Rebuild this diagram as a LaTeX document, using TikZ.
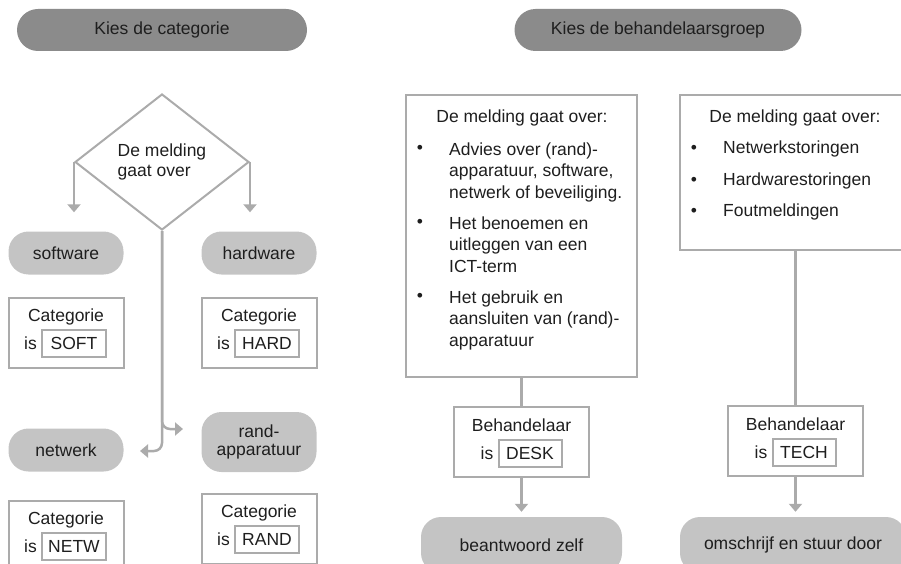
\documentclass[tikz,border=0pt]{standalone}
\usepackage{fontspec}
\setmainfont{Liberation Sans}
\usetikzlibrary{shapes.geometric,arrows.meta,positioning}
\definecolor{darkpill}{HTML}{8B8B8B}
\definecolor{lightpill}{HTML}{C4C4C4}
\definecolor{edgegray}{HTML}{ABABAB}
\definecolor{textgray}{HTML}{1E1E1E}
\tikzset{
  title/.style={fill=darkpill, rounded corners=21pt, minimum width=290pt, minimum height=42pt, inner sep=0pt},
  pill/.style={fill=lightpill, rounded corners=20pt, minimum width=115pt, minimum height=43pt, align=center, inner sep=0pt},
  catbox/.style={draw=edgegray, line width=2pt, minimum width=115pt, minimum height=70pt, inner sep=0pt},
  codebox/.style={draw=edgegray, line width=2pt, minimum width=64pt, minimum height=27pt, inner sep=0pt},
  txt/.style={inner sep=0pt},
  conn/.style={draw=edgegray, line width=2.5pt},
  arr/.style={conn, -{Triangle[width=13pt,length=8pt]}},
}
\begin{document}
\begin{tikzpicture}[x=1pt, y=-1pt, font=\fontsize{17.5}{21.5}\selectfont, text=textgray]
    \useasboundingbox (0,0) rectangle (901,564);
    \clip (0,0) rectangle (901,564);
    %titles
    \node[title] (cat) at (162,30) {Kies de categorie};
    \node[title, minimum width=287pt] (grp) at (658,30) {Kies de behandelaarsgroep};

    %left half
    \node[diamond, draw=edgegray, line width=2pt, aspect=1.28, minimum width=174pt, minimum height=136pt,
          inner sep=0pt, align=left, font=\fontsize{17.5}{20}\selectfont] (dia) at (162,162) {De melding\\gaat over};
    \node[pill] (sw) at (66,253) {software};
    \node[pill] (hw) at (259,253) {hardware};
    \node[pill] (nw) at (66,450) {netwerk};
    \node[pill, minimum height=60pt, font=\fontsize{17.5}{18}\selectfont] (rd) at (259,442) {rand-\\apparatuur};
    \foreach \nm/\cx/\cy/\code in {soft/66/333/SOFT, hard/259/333/HARD, netw/66/536/NETW, rand/259/529/RAND}{
      \node[catbox] (\nm) at (\cx,\cy) {};
      \node[txt] (\nm lbl) at ([yshift=16pt]\nm.center) {Categorie};
      \node[codebox] (\nm code) at ([xshift=8pt,yshift=-10pt]\nm.center) {\code};
      \node[txt, left=4pt of \nm code] (\nm is) {is};
    }
    \draw[arr, shorten >=19pt] (dia.west) -- (dia.west |- sw.north);
    \draw[arr, shorten >=19pt] (dia.east) -- (dia.east |- hw.north);
    \coordinate (rdin) at (183,429);
    \coordinate (nwin) at (140,451);
    \draw[arr, rounded corners=8pt] (dia.south) |- (rdin);
    \draw[arr, rounded corners=8pt] (dia.south) |- (nwin);

    %right half
    \node[draw=edgegray, line width=2pt, minimum width=231pt, minimum height=282pt] (desklist) at (521.5,236) {};
    \node[draw=edgegray, line width=2pt, minimum width=222pt, minimum height=155pt] (techlist) at (791,172.5) {};
    \node[txt] (deskhead) at (522,118) {De melding gaat over:};
    \node[txt] (techhead) at (795,118) {De melding gaat over:};
    \foreach \nm/\y/\item in {da/149/{Advies over (rand)-\\apparatuur, software,\\netwerk of beveiliging.},
                            db/223/{Het benoemen en\\uitleggen van een\\ICT-term},
                            dc/297/{Het gebruik en\\aansluiten van (rand)-\\apparatuur}}{
      \node[txt] (\nm dot) at (420,\y) {•};
      \node[txt, anchor=north west, align=left] (\nm) at (449,\y-6.5) {\item};
    }
    \foreach \nm/\y/\item in {ta/149/Netwerkstoringen, tb/181/Hardwarestoringen, tc/212/Foutmeldingen}{
      \node[txt] (\nm dot) at (694,\y) {•};
      \node[txt, anchor=west] (\nm) at (723,\y) {\item};
    }
    \foreach \nm/\cx/\cy/\code in {desk/521.5/442/DESK, tech/795.5/441/TECH}{
      \node[catbox, minimum width=135pt] (\nm) at (\cx,\cy) {};
      \node[txt] (\nm lbl) at ([yshift=17pt]\nm.center) {Behandelaar};
      \node[codebox, minimum width=63pt] (\nm code) at ([xshift=8.5pt,yshift=-11pt]\nm.center) {\code};
      \node[txt, left=4pt of \nm code] (\nm is) {is};
    }
    \node[pill, minimum width=201pt, minimum height=56pt] (zelf) at (521.5,545) {beantwoord zelf};
    \node[pill, minimum width=226pt, minimum height=56pt] (door) at (793,545) {omschrijf en stuur door};
    \draw[conn] (desklist.south) -- (desk.north);
    \draw[conn] (tech.north |- techlist.south) -- (tech.north);
    \draw[arr, shorten >=5pt] (desk.south) -- (desk.south |- zelf.north);
    \draw[arr, shorten >=5pt] (tech.south) -- (tech.south |- door.north);
\end{tikzpicture}
\end{document}
